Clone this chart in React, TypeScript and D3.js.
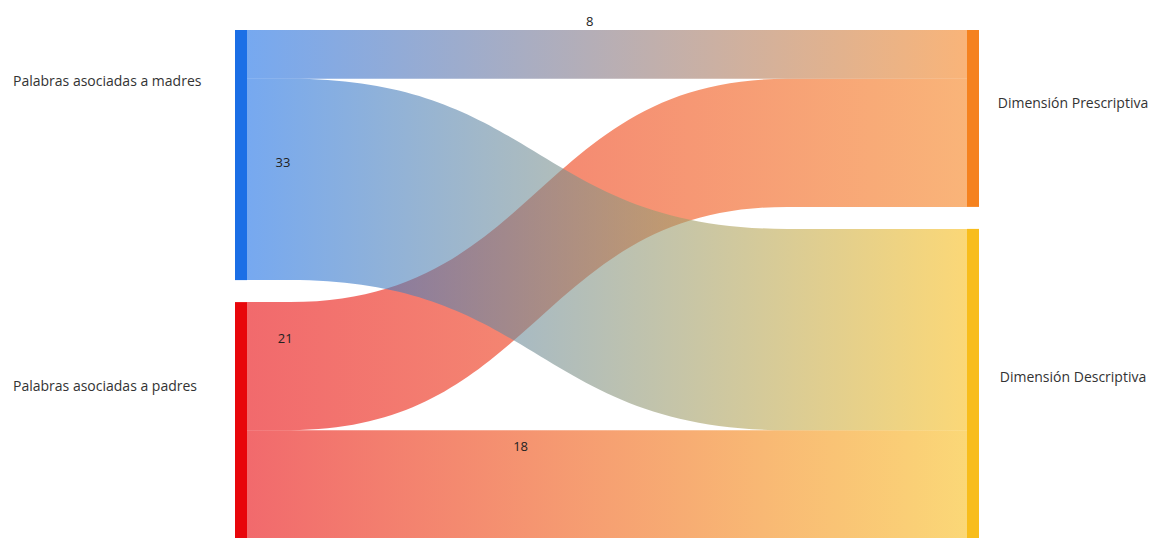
import React from 'react';
import * as d3 from 'd3';

// datos del diagrama
const nodeNames = [
  'Palabras asociadas a madres',
  'Palabras asociadas a padres',
  'Dimensión Prescriptiva',
  'Dimensión Descriptiva',
];
const nodeColors = ['#1b6fe6', '#e8060b', '#f5821f', '#f8bd1c'];
const linkSources = [0, 0, 1, 1];
const linkTargets = [2, 3, 2, 3];
const linkValues = [8, 33, 21, 18];

// tamaño y posiciones fijas
const width = 1151;
const height = 538;
const leftX = 235;
const rightX = 967;
const nodeW = 12;
const top = 30;
const bottom = 540;
const gap = 22;
const linkOpacity = 0.6;
// posicion de las etiquetas de nodo (fraccion de la altura del nodo)
const nodeLabelFrac = [0.21, 0.36, 0.42, 0.48];
const leftLabelX = 13;
const rightLabelX = 1073;
// etiquetas de valor: fraccion en x y desplazamiento vertical
const valueLabelT = [0.476, 0.05, 0.053, 0.38];
const valueLabelDy = [-32, -16, -27, -38];

function buildLayout() {
  const y = d3.scaleLinear().domain([0, d3.sum(linkValues)]).range([0, bottom - top - gap]);
  const isLeft = nodeNames.map((_, i) => linkSources.includes(i));
  const nodeValue = nodeNames.map((_, i) =>
    isLeft[i]
      ? d3.sum(linkValues.filter((_, j) => linkSources[j] === i))
      : d3.sum(linkValues.filter((_, j) => linkTargets[j] === i))
  );
  const nodes = nodeNames.map((name, i) => ({ name, i, left: isLeft[i], value: nodeValue[i], y0: 0, y1: 0 }));
  [true, false].forEach((side) => {
    let cur = top;
    nodes.filter((n) => n.left === side).forEach((n) => {
      n.y0 = cur;
      n.y1 = cur + y(n.value);
      cur = n.y1 + gap;
    });
  });
  const srcOff = nodes.map((n) => n.y0);
  const tgtOff = nodes.map((n) => n.y0);
  const links = linkValues.map((v, j) => {
    const h = y(v);
    const s = linkSources[j];
    const t = linkTargets[j];
    const l = { j, value: v, s, t, s0: srcOff[s], s1: srcOff[s] + h, t0: tgtOff[t], t1: tgtOff[t] + h };
    srcOff[s] += h;
    tgtOff[t] += h;
    return l;
  });
  return { nodes, links };
}

const x0 = leftX + nodeW;
const x1 = rightX;
const xa = x0 + 0.06 * (x1 - x0);
const xb = x1 - 0.25 * (x1 - x0);
const xm = (xa + xb) / 2;

function bandPath(s0: number, s1: number, t0: number, t1: number) {
  const p = d3.path();
  p.moveTo(x0, s0);
  p.lineTo(xa, s0);
  p.bezierCurveTo(xm, s0, xm, t0, xb, t0);
  p.lineTo(x1, t0);
  p.lineTo(x1, t1);
  p.lineTo(xb, t1);
  p.bezierCurveTo(xm, t1, xm, s1, xa, s1);
  p.lineTo(x0, s1);
  p.closePath();
  return p.toString();
}

// centro de la banda en una x dada
function centerAt(x: number, sc: number, tc: number) {
  if (x <= xa) return sc;
  if (x >= xb) return tc;
  const bx = (u: number) => (1 - u) ** 3 * xa + 3 * (1 - u) ** 2 * u * xm + 3 * (1 - u) * u * u * xm + u ** 3 * xb;
  let lo = 0, hi = 1;
  for (let k = 0; k < 30; k++) {
    const mid = (lo + hi) / 2;
    if (bx(mid) < x) lo = mid; else hi = mid;
  }
  const u = (lo + hi) / 2;
  return (1 - u) ** 3 * sc + 3 * (1 - u) ** 2 * u * sc + 3 * (1 - u) * u * u * tc + u ** 3 * tc;
}

export default function App() {
  const { nodes, links } = buildLayout();
  const font = '"Open Sans", "DejaVu Sans", sans-serif';
  // el enlace madres -> descriptiva queda encima en el cruce
  const drawOrder = [...links].reverse();
  return (
    <svg width={width} height={height} style={{ position: 'absolute', left: 0, top: 0, background: '#fff' }}>
      <defs>
        {links.map((l) => (
          <linearGradient key={l.j} id={`grad${l.j}`} gradientUnits="userSpaceOnUse" x1={x0} x2={x1} y1={0} y2={0}>
            <stop offset="0%" stopColor={nodeColors[l.s]} />
            <stop offset="100%" stopColor={nodeColors[l.t]} />
          </linearGradient>
        ))}
      </defs>
      <g>
        {drawOrder.map((l) => (
          <path key={l.j} d={bandPath(l.s0, l.s1, l.t0, l.t1)} fill={`url(#grad${l.j})`} fillOpacity={linkOpacity} />
        ))}
      </g>
      <g>
        {nodes.map((n) => (
          <rect key={n.i} x={n.left ? leftX : rightX} y={n.y0} width={nodeW} height={n.y1 - n.y0} fill={nodeColors[n.i]} />
        ))}
      </g>
      <g fontFamily={font} fontSize={14} fill="#333">
        {nodes.map((n) => (
          <text
            key={n.i}
            x={n.left ? leftLabelX : rightLabelX}
            y={n.y0 + (n.y1 - n.y0) * nodeLabelFrac[n.i]}
            textAnchor={n.left ? 'start' : 'middle'}
            dominantBaseline="middle"
          >
            {n.name}
          </text>
        ))}
      </g>
      <g fontFamily={font} fontSize={13} fill="#222">
        {links.map((l) => {
          const x = x0 + (x1 - x0) * valueLabelT[l.j];
          const yc = centerAt(x, (l.s0 + l.s1) / 2, (l.t0 + l.t1) / 2);
          return (
            <text key={l.j} x={x} y={yc + valueLabelDy[l.j]} textAnchor="middle" dominantBaseline="middle">
              {l.value}
            </text>
          );
        })}
      </g>
    </svg>
  );
}
